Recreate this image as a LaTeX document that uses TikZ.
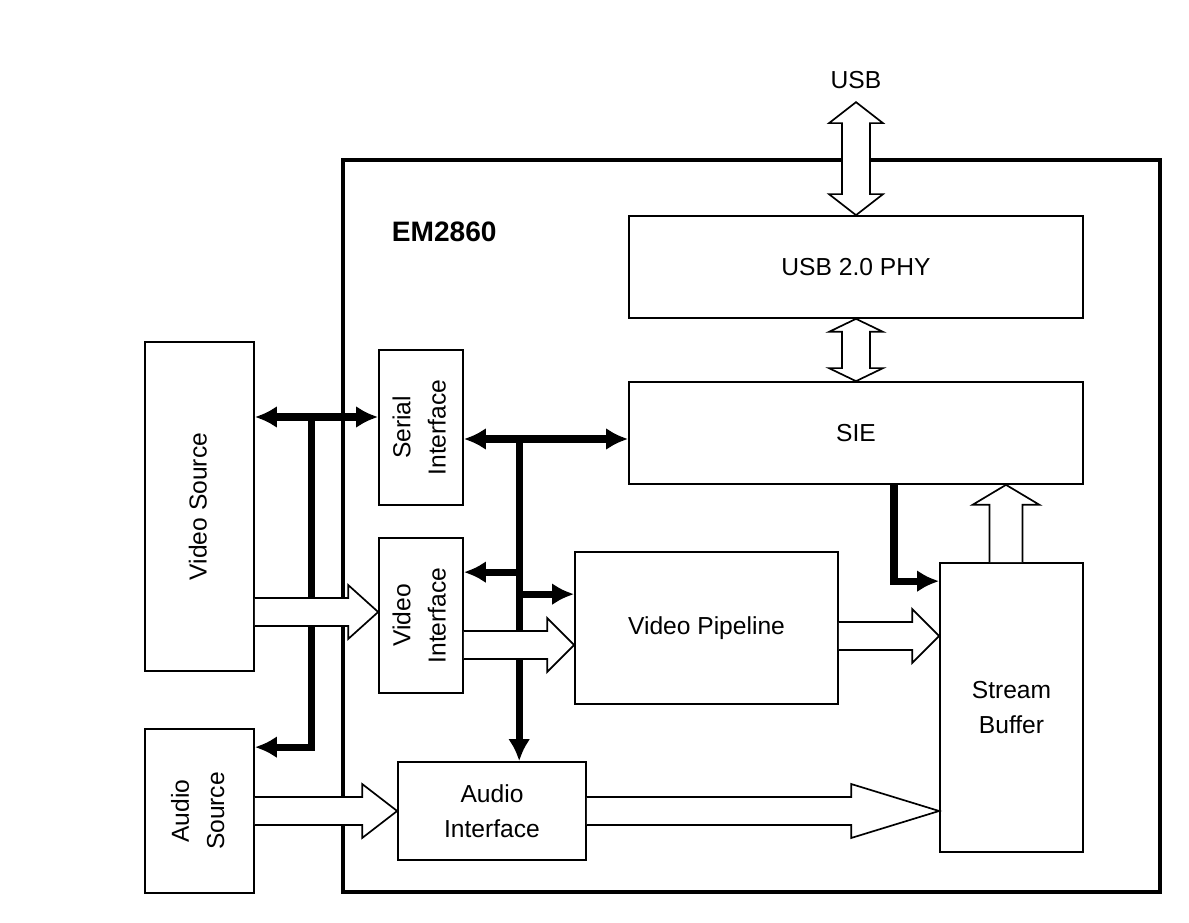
\documentclass[tikz,border=0pt]{standalone}
\usepackage{fontspec}
\setmainfont{Liberation Sans}
\usepackage{graphicx}
\usetikzlibrary{arrows.meta,calc,positioning}

\newcommand{\fatshaft}{0.35cm}
\newcommand{\fathead}{0.675cm}
\newcommand{\uptext}[1]{\rotatebox{90}{\begin{tabular}{@{}c@{}}#1\end{tabular}}}

% hollow arrow from #2 to #3, head length #1
\newcommand{\fatarrow}[3][0.7cm]{%
  \coordinate (fa1) at ($(#3)!#1!(#2)$);
  \draw[hollow] ($(#2)!\fatshaft!90:(#3)$) -- ($(fa1)!\fatshaft!90:(#3)$) -- ($(fa1)!\fathead!90:(#3)$) -- (#3) -- ($(fa1)!\fathead!-90:(#3)$) -- ($(fa1)!\fatshaft!-90:(#3)$) -- ($(#2)!\fatshaft!-90:(#3)$);
}
% hollow arrow with two heads
\newcommand{\fatdarrow}[3][0.5cm]{%
  \coordinate (fa0) at ($(#2)!#1!(#3)$);
  \coordinate (fa1) at ($(#3)!#1!(#2)$);
  \draw[hollow] (#2) -- ($(fa0)!\fathead!90:(#3)$) -- ($(fa0)!\fatshaft!90:(#3)$) -- ($(fa1)!\fatshaft!90:(#3)$) -- ($(fa1)!\fathead!90:(#3)$) -- (#3) -- ($(fa1)!\fathead!-90:(#3)$) -- ($(fa1)!\fatshaft!-90:(#3)$) -- ($(fa0)!\fatshaft!-90:(#3)$) -- ($(fa0)!\fathead!-90:(#3)$) -- cycle;
}

\begin{document}
\begin{tikzpicture}[
    box/.style={draw, line width=1.2pt, inner sep=0pt, align=center},
    bus/.style={line width=5pt},
    hollow/.style={draw, fill=white, line width=1.2pt, line join=miter},
    >={Latex[length=0.55cm,width=0.55cm]},
    font=\fontsize{17.5}{25}\selectfont
]
\path[use as bounding box, fill=white] (0,0) rectangle (29.725,-23.075);

% Chip
\node[box, line width=2.5pt, minimum width=20.425cm, minimum height=18.3cm] (em) at (18.7875,-13.15) {};
\node[font=\fontsize{20}{24}\selectfont\bfseries] (emname) at ([xshift=2.575cm,yshift=-1.85cm]em.north west) {EM2860};

% Blocks
\node[box, minimum width=11.35cm, minimum height=2.55cm] (phy) at (21.4,-6.675) {USB 2.0 PHY};
\node[box, minimum width=11.35cm, minimum height=2.55cm] (sie) at (21.4,-10.825) {SIE};
\node[box, minimum width=3.575cm, minimum height=7.225cm] (sb) at (25.2875,-17.6875) {Stream\\Buffer};
\node[box, minimum width=2.725cm, minimum height=8.225cm] (vsrc) at (4.9875,-12.6625) {\uptext{Video Source}};
\node[box, minimum width=2.725cm, minimum height=4.1cm] (asrc) at (4.9875,-20.275) {\uptext{Audio\\Source}};
\node[box, minimum width=2.1cm, minimum height=3.875cm] (ser) at (10.525,-10.6875) {\uptext{Serial\\Interface}};
\node[box, minimum width=2.1cm, minimum height=3.875cm] (vif) at (10.525,-15.3875) {\uptext{Video\\Interface}};
\node[box, minimum width=6.575cm, minimum height=3.8cm] (vp) at (17.6625,-15.7) {Video Pipeline};
\node[box, minimum width=4.7cm, minimum height=2.45cm] (aif) at (12.3,-20.275) {Audio\\Interface};

% Bus points
\coordinate (b1) at ([yshift=0.2625cm]ser.west);
\coordinate (b1s) at (vsrc.east |- b1);
\coordinate (j1) at ($(b1s)!0.456!(b1)$);
\coordinate (b2) at ([yshift=-0.2875cm]ser.east);
\coordinate (b2e) at (sie.west |- b2);
\coordinate (j2) at ($(b2)!0.337!(b2e)$);
\coordinate (c1) at ([yshift=-0.475cm]asrc.north east);
\coordinate (c2) at ([yshift=-0.875cm]vif.north east);
\coordinate (c3) at ([yshift=-1.075cm]vp.north west);
\coordinate (c4) at ([xshift=0.95cm]sie.south);
\coordinate (c5) at ([yshift=-0.475cm]sb.north west);

% Control bus
\draw[bus,<->] (b1s) -- (b1);
\draw[bus,->] (j1) |- (c1);
\draw[bus,<->] (b2) -- (b2e);
\draw[bus,->] (j2) -- (j2 |- aif.north);
\draw[bus,->] (j2 |- c2) -- (c2);
\draw[bus,->] (j2 |- c3) -- (c3);
\draw[bus,->] (c4) |- (c5);

% Data paths
\coordinate (a1) at ([yshift=0.0875cm]vif.west);
\coordinate (a1s) at (vsrc.east |- a1);
\fatarrow[0.75cm]{a1s}{a1}
\coordinate (a2) at ([yshift=-0.7375cm]vif.east);
\coordinate (a2e) at (vp.west |- a2);
\fatarrow[0.675cm]{a2}{a2e}
\fatarrow[0.875cm]{asrc.east}{aif.west}
\coordinate (a4) at ([yshift=-0.2cm]vp.east);
\coordinate (a4e) at (sb.west |- a4);
\fatarrow[0.675cm]{a4}{a4e}
\coordinate (a5e) at (sb.west |- aif.east);
\fatarrow[2.2cm]{aif.east}{a5e}
\coordinate (a6) at ([xshift=-0.1375cm]sb.north);
\coordinate (a6e) at (sie.south -| a6);
{\renewcommand{\fatshaft}{0.4125cm}\renewcommand{\fathead}{0.8375cm}\fatarrow[0.5cm]{a6}{a6e}}

% USB
\fatdarrow[0.325cm]{phy.south}{sie.north}
\coordinate (usbtip) at ([yshift=2.825cm]phy.north);
\node[above=0.2cm of usbtip] (usb) {USB};
\fatdarrow[0.525cm]{usbtip}{phy.north}

\end{tikzpicture}
\end{document}
